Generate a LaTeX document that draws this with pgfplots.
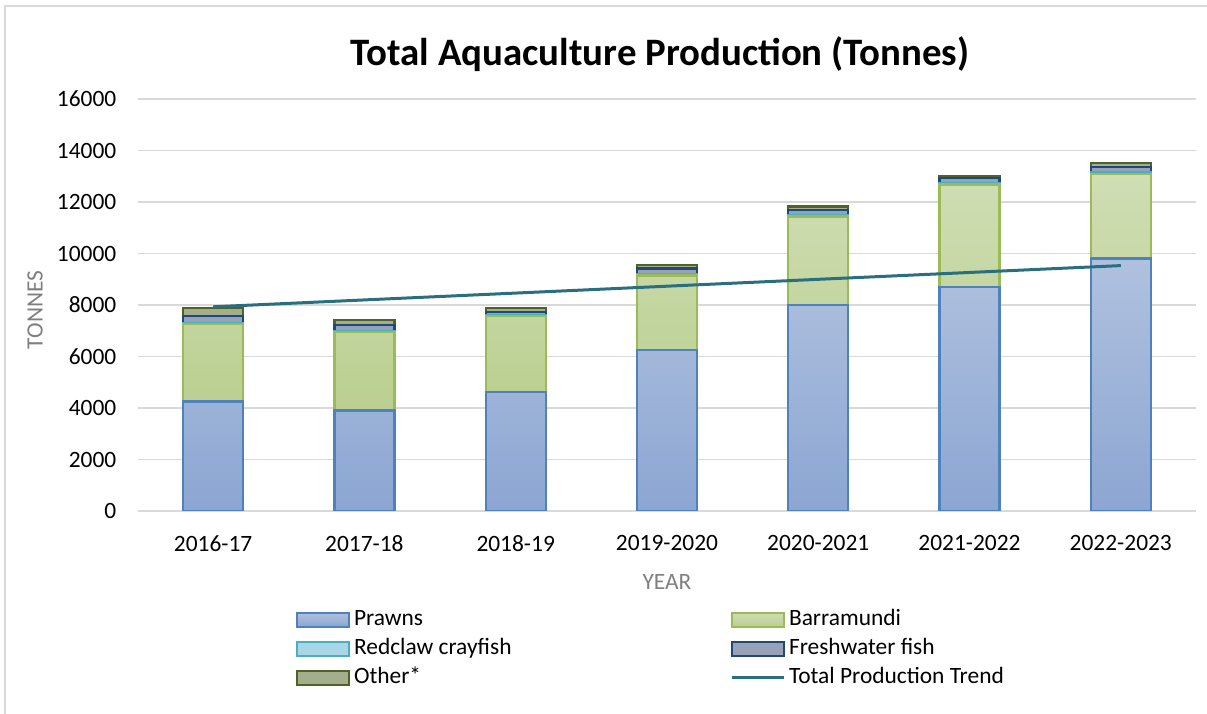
\documentclass[border=0pt]{standalone}
\usepackage{fontspec}
\setmainfont{Carlito}
\usepackage{pgfplots}
\usepackage{pgfplotstable}
\pgfplotsset{compat=1.18}

\definecolor{prawnEdge}{HTML}{4F81BD}
\definecolor{prawnTop}{HTML}{B0C1DF}
\definecolor{prawnBot}{HTML}{8CA6D2}
\definecolor{barraEdge}{HTML}{9BBB59}
\definecolor{barraTop}{HTML}{D0DEB4}
\definecolor{barraBot}{HTML}{BACF90}
\definecolor{redEdge}{HTML}{4BACC6}
\definecolor{redFill}{HTML}{A9D6E4}
\definecolor{freshEdge}{HTML}{1F497D}
\definecolor{freshFill}{HTML}{97A1B8}
\definecolor{otherEdge}{HTML}{4F6228}
\definecolor{otherFill}{HTML}{A3AE8A}
\definecolor{trend}{HTML}{2A6F80}
\definecolor{gridgray}{HTML}{D9D9D9}
\definecolor{labelgray}{HTML}{7F7F7F}

% tonnes per year: prawns, barramundi, redclaw, freshwater fish, other
\pgfplotstableread{
x prawns barra redclaw fresh other
0 4250 3000 50 270 300
1 3900 3050 40 220 200
2 4620 2960 30 130 150
3 6250 2900 30 240 130
4 7990 3450 30 220 130
5 8700 3980 40 200 100
6 9800 3300 40 220 160
}\aqdata

\pgfplotstableread{
x total
0 7930
1 8197
2 8463
3 8730
4 8997
5 9263
6 9530
}\trenddata

\newcommand{\tickfont}{\fontsize{23.5}{28}\selectfont}

\pgfplotsset{
  base/.style={
    at={(137.5bp,203bp)}, anchor=south west,
    width=1059bp, height=412bp, scale only axis,
    xmin=-0.5, xmax=6.5, ymin=0, ymax=16000,
  },
}

\begin{document}
\begin{tikzpicture}
\useasboundingbox (0,0) rectangle (1207bp,714bp);
\draw[gridgray, line width=1.5bp] (5bp,0) -- (5bp,708bp) -- (1207bp,708bp);

\node[anchor=base, inner sep=0pt] at (660bp,648bp)
  {\bfseries\fontsize{39}{45}\selectfont Total Aquaculture Production (Tonnes)};

\begin{axis}[
  base,
  ybar stacked, bar width=60bp,
  axis line style={draw=none}, tick style={draw=none},
  ymajorgrids, grid style={gridgray, line width=1.5bp},
  ytick={0,2000,...,16000},
  xtick={0,...,6},
  xticklabels={2016-17,2017-18,2018-19,2019-2020,2020-2021,2021-2022,2022-2023},
  scaled y ticks=false,
  /pgf/number format/assume math mode=true,
  /pgf/number format/set thousands separator={},
  ticklabel style={font=\tickfont},
  yticklabel style={inner sep=0pt, xshift=-21bp},
  xticklabel style={inner sep=0pt, yshift=-24bp},
  ylabel={TONNES}, xlabel={YEAR},
  label style={font=\tickfont, text=labelgray},
  ylabel style={at={(rel axis cs:-0.0968,0.488)}, rotate=0, anchor=center},
  xlabel style={at={(rel axis cs:0.5,-0.1723)}, anchor=center},
  every axis plot/.append style={line width=2.3bp},
]
\addplot[draw=prawnEdge, top color=prawnTop, bottom color=prawnBot] table[x=x,y=prawns]{\aqdata};
\addplot[draw=barraEdge, top color=barraTop, bottom color=barraBot] table[x=x,y=barra]{\aqdata};
\addplot[draw=redEdge, fill=redFill] table[x=x,y=redclaw]{\aqdata};
\addplot[draw=freshEdge, fill=freshFill] table[x=x,y=fresh]{\aqdata};
\addplot[draw=otherEdge, fill=otherFill] table[x=x,y=other]{\aqdata};
\end{axis}

\begin{axis}[
  base, hide axis,
  legend columns=2,
  legend cell align=left,
  legend style={
    at={(0.1497,-0.2355)}, anchor=north west,
    draw=none, fill=none, inner sep=0pt, outer sep=0pt,
    font=\tickfont,
    nodes={inner sep=0pt, text height=17bp, text depth=6bp},
    row sep=6bp,
    /tikz/every odd column/.append style={column sep=4bp},
    /tikz/every even column/.append style={column sep=0bp},
  },
]
\addlegendimage{legend image code/.code={\draw[draw=prawnEdge, top color=prawnTop, bottom color=prawnBot, line width=2bp] (0bp,-7bp) rectangle (52bp,7bp);}}
\addlegendimage{legend image code/.code={\draw[draw=barraEdge, top color=barraTop, bottom color=barraBot, line width=2bp] (0bp,-7bp) rectangle (52bp,7bp);}}
\addlegendimage{legend image code/.code={\draw[draw=redEdge, fill=redFill, line width=2bp] (0bp,-7bp) rectangle (52bp,7bp);}}
\addlegendimage{legend image code/.code={\draw[draw=freshEdge, fill=freshFill, line width=2bp] (0bp,-7bp) rectangle (52bp,7bp);}}
\addlegendimage{legend image code/.code={\draw[draw=otherEdge, fill=otherFill, line width=2bp] (0bp,-7bp) rectangle (52bp,7bp);}}
\addplot[trend, line width=3bp, no marks,
  legend image code/.code={\draw[trend, line width=3bp] (0bp,0bp) -- (52bp,0bp);}]
  table[x=x,y=total]{\trenddata};
\legend{\makebox[376bp][l]{Prawns}, Barramundi,
        \makebox[376bp][l]{Redclaw crayfish}, Freshwater fish,
        \makebox[376bp][l]{Other*}, Total Production Trend}
\end{axis}
\end{tikzpicture}
\end{document}
